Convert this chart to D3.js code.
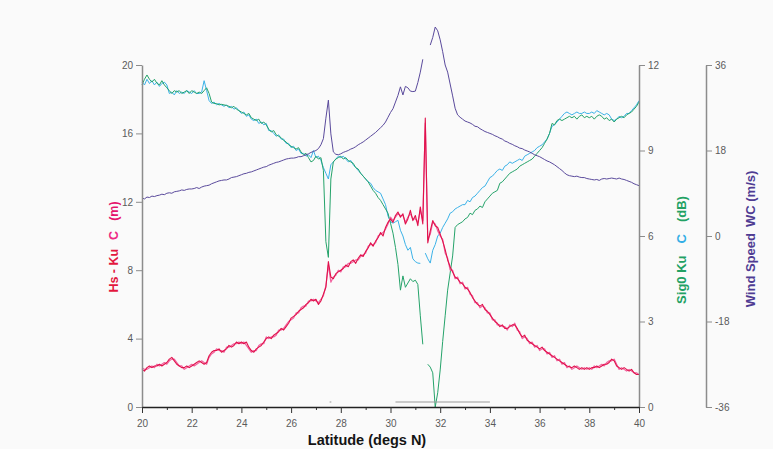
<!DOCTYPE html>
<html>
<head>
<meta charset="utf-8">
<script src="https://cdn.jsdelivr.net/npm/d3@7"></script>
<style>
  body { margin: 0; background: #fafafa; }
  svg { display: block; }
  text { font-family: "Liberation Sans", Arial, Helvetica, sans-serif; }
</style>
</head>
<body>
<svg id="chart" width="773" height="449"></svg>
<script>
// Along-track samples every 0.1 deg of latitude, 20N to 40N
const latStart = 20;
const latStep = 0.1;

// Significant wave height (m), Ku band
const hsKu = [
  2.2, 2.1, 2.3, 2.4, 2.3, 2.4, 2.4, 2.5, 2.4, 2.5,
  2.6, 2.8, 2.9, 2.7, 2.5, 2.4, 2.3, 2.3, 2.4, 2.3,
  2.4, 2.5, 2.6, 2.7, 2.6, 2.5, 2.6, 3.0, 3.2, 3.3,
  3.3, 3.4, 3.2, 3.3, 3.4, 3.6, 3.5, 3.6, 3.8, 3.7,
  3.8, 3.7, 3.8, 3.5, 3.3, 3.2, 3.4, 3.5, 3.6, 3.8,
  4.0, 4.1, 4.0, 4.2, 4.3, 4.4, 4.6, 4.5, 4.7, 4.9,
  5.2, 5.3, 5.4, 5.6, 5.7, 5.8, 6.0, 6.1, 6.3, 6.2,
  6.3, 6.0, 6.2, 6.6, 7.0, 8.5, 7.6, 7.5, 7.8, 7.9,
  8.0, 8.1, 8.3, 8.2, 8.5, 8.6, 8.4, 8.7, 8.9, 8.8,
  9.1, 9.3, 9.6, 9.4, 9.7, 9.9, 10.2, 10.0, 10.5, 10.8,
  11.0, 10.8, 11.2, 11.4, 11.1, 11.3, 10.7, 11.0, 11.5, 10.9,
  11.2, 10.6, 11.7, 10.7, 16.9, 9.6, 10.3, 10.9, 10.6, 10.5,
  10.1, 9.7, 9.2, 8.6, 8.2, 7.9, 7.6, 7.5, 7.3, 7.2,
  7.0, 6.9, 6.7, 6.4, 6.2, 6.0, 5.9, 6.0, 5.7, 5.6,
  5.4, 5.2, 5.0, 4.9, 4.7, 4.8, 4.6, 4.6, 4.7, 4.8,
  4.8, 4.6, 4.3, 4.1, 4.2, 3.9, 3.8, 3.7, 3.6, 3.5,
  3.4, 3.5, 3.3, 3.2, 3.1, 3.0, 2.9, 2.8, 2.7, 2.6,
  2.5, 2.4, 2.35, 2.3, 2.4, 2.3, 2.2, 2.3, 2.2, 2.3,
  2.2, 2.3, 2.3, 2.4, 2.3, 2.4, 2.5, 2.5, 2.6, 2.8,
  2.7, 2.4, 2.3, 2.2, 2.3, 2.2, 2.1, 2.2, 2.0, 1.9,
  1.9
];

// Significant wave height (m), C band
const hsC = [
  2.3, 2.2, 2.2, 2.3, 2.4, 2.3, 2.5, 2.4, 2.5, 2.6,
  2.5, 2.7, 2.8, 2.8, 2.6, 2.4, 2.4, 2.2, 2.3, 2.4,
  2.5, 2.4, 2.5, 2.6, 2.7, 2.6, 2.5, 2.9, 3.1, 3.2,
  3.4, 3.3, 3.3, 3.2, 3.5, 3.5, 3.6, 3.7, 3.7, 3.8,
  3.7, 3.8, 3.6, 3.4, 3.2, 3.3, 3.3, 3.6, 3.7, 3.7,
  4.1, 4.0, 4.1, 4.1, 4.2, 4.5, 4.5, 4.6, 4.8, 5.0,
  5.1, 5.2, 5.5, 5.5, 5.8, 5.9, 5.9, 6.2, 6.2, 6.3,
  6.2, 6.1, 6.3, 6.5, 7.1, 8.3, 7.3, 7.6, 7.7, 8.0,
  7.9, 8.2, 8.2, 8.4, 8.4, 8.5, 8.6, 8.6, 8.8, 8.9,
  9.0, 9.4, 9.5, 9.5, 9.6, 10.0, 10.1, 10.2, 10.4, 10.7,
  11.1, 10.9, 11.1, 11.3, 11.2, 11.2, 10.8, 11.1, 11.3, 11.0,
  11.0, 10.8, 11.5, 10.9, 16.6, 9.8, 10.1, 10.8, 10.7, 10.3,
  10.0, 9.8, 9.0, 8.7, 8.0, 8.0, 7.5, 7.6, 7.2, 7.3,
  6.9, 7.0, 6.6, 6.5, 6.1, 6.1, 5.8, 5.9, 5.8, 5.5,
  5.5, 5.1, 5.1, 4.8, 4.8, 4.7, 4.7, 4.5, 4.8, 4.7,
  4.9, 4.5, 4.4, 4.0, 4.1, 4.0, 3.7, 3.8, 3.5, 3.6,
  3.3, 3.4, 3.4, 3.1, 3.2, 2.9, 3.0, 2.7, 2.8, 2.5,
  2.6, 2.3, 2.4, 2.2, 2.3, 2.4, 2.3, 2.2, 2.3, 2.2,
  2.3, 2.2, 2.4, 2.3, 2.4, 2.5, 2.4, 2.6, 2.7, 2.7,
  2.8, 2.5, 2.2, 2.3, 2.2, 2.1, 2.2, 2.1, 2.0, 2.0,
  1.9
];

// Backscatter sigma0 (dB), Ku band (null = no valid sample)
const sig0Ku = [
  11.3, 11.5, 11.65, 11.5, 11.4, 11.5, 11.36, 11.3, 11.45, 11.3,
  11.2, 11.1, 11.0, 11.1, 11.05, 11.1, 11.0, 11.05, 11.1, 11.0,
  11.1, 11.05, 11.0, 11.05, 11.0, 11.1, 11.2, 11.0, 10.7, 10.65,
  10.65, 10.6, 10.62, 10.6, 10.58, 10.55, 10.5, 10.55, 10.45, 10.4,
  10.35, 10.3, 10.25, 10.3, 10.15, 10.1, 10.05, 10.1, 9.95, 10.0,
  9.9, 9.75, 9.65, 9.7, 9.55, 9.5, 9.45, 9.35, 9.3, 9.2,
  9.15, 9.1, 9.05, 9.1, 8.95, 8.85, 8.9, 8.75, 8.6, 8.65,
  8.8, 8.7, 8.75, 8.3, 5.8, 5.25, 8.0, 8.6, 8.7, 8.75,
  8.8, 8.7, 8.75, 8.65, 8.6, 8.55, 8.4, 8.35, 8.2, 8.1,
  8.0, 7.9, 7.75, 7.6, 7.5, 7.35, 7.25, 7.1, 6.95, 6.8,
  6.45, 6.1, 5.6, 5.0, 4.1, 4.6, 4.2, 4.35, 4.5, 4.4,
  4.45, 4.3, 3.2, 2.2, null, 1.5, 1.4, 1.2, 0.0, 0.5,
  1.3, 2.3, 3.2, 4.1, 4.7, 5.3, 6.3, 6.4, 6.45, 6.5,
  6.6, 6.65, 6.8, 6.75, 6.9, 6.95, 7.05, 7.0, 7.2, 7.3,
  7.4, 7.5, 7.55, 7.6, 7.85, 7.9, 8.0, 8.1, 8.2, 8.25,
  8.3, 8.35, 8.45, 8.5, 8.55, 8.6, 8.65, 8.7, 8.8, 8.9,
  9.0, 9.1, 9.25, 9.4, 9.6, 9.95, 9.9, 10.05, 10.1, 10.05,
  10.1, 10.15, 10.2, 10.15, 10.2, 10.1, 10.2, 10.25, 10.15, 10.2,
  10.15, 10.2, 10.1, 10.2, 10.25, 10.2, 10.1, 10.15, 10.05, 10.1,
  10.0, 10.1, 10.15, 10.2, 10.15, 10.25, 10.3, 10.35, 10.45, 10.55,
  10.7
];

// Backscatter sigma0 (dB), C band
const sig0C = [
  11.4, 11.3, 11.5, 11.35, 11.45, 11.3, 11.4, 11.25, 11.35, 11.4,
  11.3, 11.0, 11.05, 10.95, 11.1, 11.0, 11.05, 11.0, 11.1, 11.05,
  11.0, 11.1, 11.0, 11.0, 11.05, 11.45, 11.1, 10.75, 10.65, 10.7,
  10.6, 10.65, 10.6, 10.55, 10.6, 10.5, 10.55, 10.45, 10.5, 10.4,
  10.3, 10.35, 10.2, 10.25, 10.1, 10.05, 10.1, 9.95, 10.0, 9.9,
  9.95, 9.7, 9.7, 9.6, 9.5, 9.55, 9.4, 9.4, 9.25, 9.25,
  9.1, 9.15, 9.0, 9.05, 8.9, 8.9, 8.8, 8.85, 8.75, 9.0,
  8.75, 8.8, 8.65, 8.4, 8.2, 8.0, 8.5, 8.6, 8.7, 8.8,
  8.75, 8.8, 8.7, 8.6, 8.65, 8.5, 8.4, 8.3, 8.2, 8.1,
  8.0, 7.9, 7.85, 7.7, 7.6, 7.55, 7.5, 7.3, 7.1, 6.7,
  6.5, 6.45, 6.5, 6.55, 6.2, 6.0, 5.7, 5.5, 5.6, 5.2,
  5.1, 5.05, 5.04, null, 5.4, 5.2, 5.05, 5.5, 5.7, 6.0,
  6.1, 6.3, 6.45, 6.6, 6.8, 6.85, 6.95, 7.0, 7.05, 7.1,
  7.1, 7.25, 7.2, 7.35, 7.4, 7.5, 7.6, 7.7, 7.75, 7.9,
  8.05, 8.1, 8.2, 8.3, 8.35, 8.3, 8.45, 8.5, 8.6, 8.55,
  8.6, 8.65, 8.7, 8.65, 8.8, 8.85, 8.9, 8.95, 9.0, 9.1,
  9.15, 9.2, 9.3, 9.4, 9.6, 9.85, 9.9, 10.0, 10.1, 10.2,
  10.3, 10.35, 10.3, 10.25, 10.3, 10.35, 10.3, 10.3, 10.35, 10.3,
  10.3, 10.35, 10.3, 10.4, 10.35, 10.3, 10.25, 10.3, 10.25, 10.1,
  10.05, 10.1, 10.2, 10.15, 10.2, 10.3, 10.3, 10.4, 10.5, 10.6,
  10.75
];

// Wind speed (m/s) from the altimeter wind model
const windWC = [
  8.0, 7.8, 8.2, 8.1, 8.4, 8.3, 8.5, 8.6, 8.8, 8.7,
  9.0, 9.1, 9.0, 9.3, 9.4, 9.5, 9.7, 9.6, 9.8, 9.9,
  9.9, 10.0, 10.2, 10.0, 10.3, 10.5, 10.6, 10.7, 11.0, 11.2,
  11.4, 11.6, 11.7, 11.8, 11.8, 12.0, 12.3, 12.4, 12.5, 12.7,
  12.9, 13.1, 13.2, 13.4, 13.5, 13.7, 13.9, 14.1, 14.3, 14.5,
  14.6, 14.9, 15.1, 15.3, 15.5, 15.6, 15.8, 16.0, 16.2, 16.3,
  16.4, 16.4, 16.5, 16.7, 16.7, 16.9, 17.1, 17.3, 17.6, 17.8,
  18.0, 18.4, 19.2, 20.5, 24.8, 28.6, 21.5, 17.7, 17.2, 17.1,
  17.3, 17.6, 17.8, 18.0, 18.3, 18.5, 18.8, 19.2, 19.5, 19.8,
  20.2, 20.6, 21.0, 21.4, 21.8, 22.3, 22.8, 23.3, 24.0, 25.0,
  26.0, 26.8, 28.2, 29.6, 31.4, 29.7, 31.5, 31.2, 30.5, 30.4,
  30.5, 32.3, 34.5, 37.2, null, null, 40.2, 41.8, 44.0, 43.2,
  41.3, 38.8, 36.0, 34.5, 32.0, 29.5, 26.9, 25.5, 25.0, 24.6,
  24.2, 24.0, 23.8, 23.5, 23.1, 23.0, 22.6, 22.3, 22.0, 21.8,
  21.6, 21.4, 21.1, 20.9, 20.6, 20.4, 20.0, 19.8, 19.5, 19.3,
  19.0, 18.8, 18.5, 18.4, 18.1, 17.9, 17.7, 17.4, 17.1, 16.9,
  16.7, 16.4, 16.1, 15.8, 15.6, 15.3, 15.0, 14.6, 14.2, 13.8,
  13.3, 12.9, 12.7, 12.6, 12.5, 12.6, 12.4, 12.3, 12.3, 12.1,
  12.0, 11.9, 11.8, 11.9, 11.7, 12.0, 12.1, 12.0, 12.1, 12.2,
  12.1, 12.0, 12.2, 12.0, 11.9, 11.7, 11.5, 11.3, 11.0, 10.8,
  10.6
];

// Latitude spans of flagged samples, marked just above the axis
const flagSpans = [[27.55, 27.62], [30.2, 34.0]];

// Axis ticks
const latTicks = [20, 22, 24, 26, 28, 30, 32, 34, 36, 38, 40];
const latMinorTicks = [21, 23, 25, 27, 29, 31, 33, 35, 37, 39];
const hsTicks = [0, 4, 8, 12, 16, 20];
const sig0Ticks = [0, 3, 6, 9, 12];
const windTicks = [-36, -18, 0, 18, 36];

const colors = {
  hsKu: "#e0124c",
  hsC: "#f2629f",
  sig0Ku: "#25a36a",
  sig0C: "#3bb2e8",
  wind: "#5a4a9c"
};

const svg = d3.select("#chart");
svg.append("rect").attr("width", 773).attr("height", 449).attr("fill", "#fafafa");

const x = d3.scaleLinear().domain([20, 40]).range([142, 639]);
const yHs = d3.scaleLinear().domain([0, 20]).range([407, 65]);
const ySig = d3.scaleLinear().domain([0, 12]).range([407, 65]);
const yWind = d3.scaleLinear().domain([-36, 36]).range([407, 65]);

const latOf = i => latStart + i * latStep;
const plainNumber = d => String(d);

function drawSeries(values, yScale, color, width) {
  const line = d3.line()
    .defined(d => d != null)
    .x((d, i) => x(latOf(i)))
    .y(d => yScale(d));
  svg.append("path")
    .datum(values)
    .attr("fill", "none")
    .attr("stroke", color)
    .attr("stroke-width", width)
    .attr("stroke-linejoin", "round")
    .attr("d", line);
}

drawSeries(sig0C, ySig, colors.sig0C, 1);
drawSeries(sig0Ku, ySig, colors.sig0Ku, 1);
drawSeries(hsC, yHs, colors.hsC, 1.2);
drawSeries(hsKu, yHs, colors.hsKu, 1.1);
drawSeries(windWC, yWind, colors.wind, 1);

// flagged spans
svg.append("g").selectAll("line")
  .data(flagSpans)
  .join("line")
  .attr("x1", d => x(d[0]))
  .attr("x2", d => x(d[1]))
  .attr("y1", yHs(0) - 5)
  .attr("y2", yHs(0) - 5)
  .attr("stroke", "#9a9a9a")
  .attr("stroke-width", 1);

function styleAxis(g, lineColor, lineWidth) {
  g.select(".domain").attr("stroke", lineColor).attr("stroke-width", lineWidth);
  g.selectAll(".tick line").attr("stroke", lineColor).attr("stroke-width", 1);
  g.selectAll(".tick text")
    .attr("fill", "#5a5a5a")
    .style("font-size", "10px")
    .style("font-family", '"Liberation Sans", Arial, sans-serif');
}

// left axis: wave height
const gLeft = svg.append("g").attr("transform", "translate(142,0)")
  .call(d3.axisLeft(yHs).tickValues(hsTicks).tickFormat(plainNumber)
    .tickSize(6).tickSizeOuter(0).tickPadding(3));
styleAxis(gLeft, "#8c8c8c", 1.5);

// right axis 1: sigma0
const gSig = svg.append("g").attr("transform", "translate(639,0)")
  .call(d3.axisRight(ySig).tickValues(sig0Ticks).tickFormat(plainNumber)
    .tickSize(6).tickSizeOuter(0).tickPadding(3));
styleAxis(gSig, "#8c8c8c", 1.5);

// right axis 2: wind speed
const gWind = svg.append("g").attr("transform", "translate(706,0)")
  .call(d3.axisRight(yWind).tickValues(windTicks).tickFormat(plainNumber)
    .tickSize(6).tickSizeOuter(0).tickPadding(3));
styleAxis(gWind, "#8c8c8c", 1.5);

// bottom axis: latitude, major and minor ticks
const gMinor = svg.append("g").attr("transform", "translate(0,407)")
  .call(d3.axisBottom(x).tickValues(latMinorTicks).tickSize(3).tickSizeOuter(0).tickFormat(""));
gMinor.select(".domain").remove();
gMinor.selectAll(".tick line").attr("stroke", "#333");

const gBottom = svg.append("g").attr("transform", "translate(0,407)")
  .call(d3.axisBottom(x).tickValues(latTicks).tickFormat(plainNumber)
    .tickSize(6).tickSizeOuter(0).tickPadding(7));
styleAxis(gBottom, "#222", 1.5);
gBottom.selectAll(".tick line").attr("stroke", "#333");

// axis titles
svg.append("text")
  .attr("x", 367).attr("y", 445)
  .attr("text-anchor", "middle")
  .attr("fill", "#141414")
  .style("font-size", "14.5px")
  .style("font-weight", "bold")
  .text("Latitude (degs N)");

const tLeft = svg.append("text")
  .attr("transform", "translate(118,247) rotate(-90)")
  .attr("text-anchor", "middle")
  .style("font-size", "12.5px")
  .style("font-weight", "bold");
tLeft.append("tspan").attr("fill", "#e3173e").text("Hs - Ku");
tLeft.append("tspan").attr("dx", 9).attr("fill", "#ee2a84").text("C");
tLeft.append("tspan").attr("dx", 10).attr("fill", "#e5156b").text("(m)");

const tSig = svg.append("text")
  .attr("transform", "translate(686,250) rotate(-90)")
  .attr("text-anchor", "middle")
  .style("font-size", "13px")
  .style("font-weight", "bold");
tSig.append("tspan").attr("fill", "#22a163").text("Sig0 Ku");
tSig.append("tspan").attr("dx", 12).attr("fill", "#33aee6").text("C");
tSig.append("tspan").attr("dx", 12).attr("fill", "#22a163").text("(dB)");

const tWind = svg.append("text")
  .attr("transform", "translate(755,239) rotate(-90)")
  .attr("text-anchor", "middle")
  .style("font-size", "13px")
  .style("font-weight", "bold")
  .attr("fill", "#4f3c93");
tWind.append("tspan").text("Wind Speed");
tWind.append("tspan").attr("dx", 6).text("WC (m/s)");
</script>
</body>
</html>
